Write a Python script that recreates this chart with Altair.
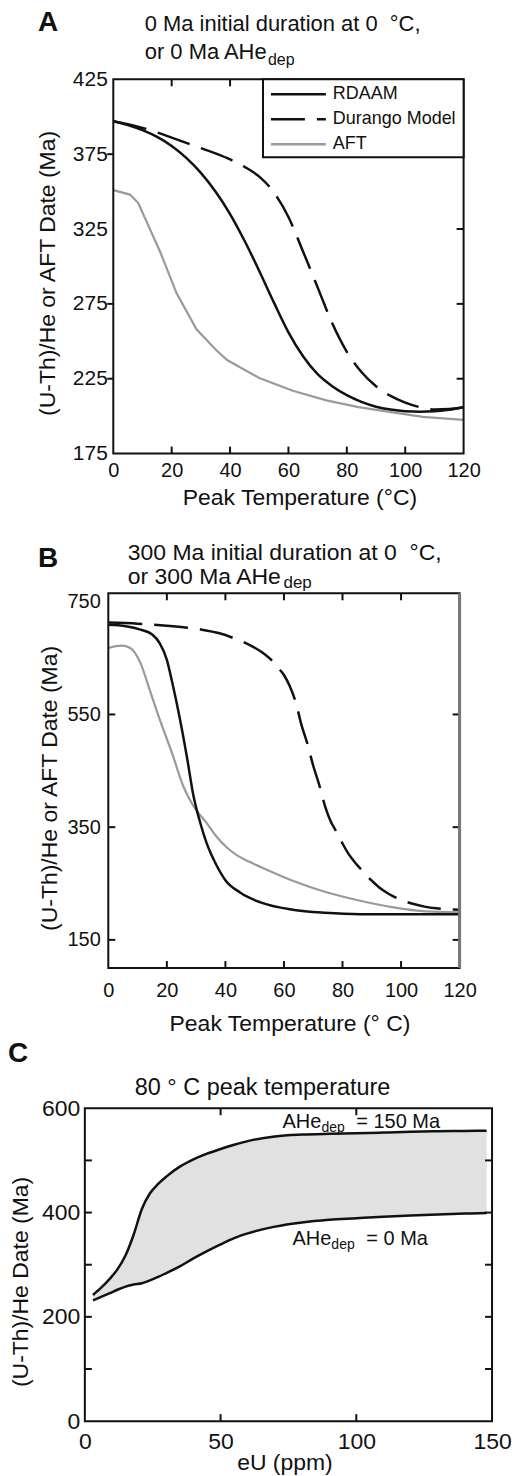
import altair as alt
import pandas as pd

FONT = "Liberation Sans"
BLACK = "#111111"
GRAY = "#9a9a9a"
FILL = "#e1e1e1"
DEG = "\u00b0"
NB = "\u00a0"

# ---------------- Panel A data ----------------
A_T = [0, 5, 10, 15, 20, 25, 30, 35, 40, 45, 50, 55, 60, 65, 70, 75, 80, 85, 90, 95, 100, 105, 110, 115, 120]
A_RDAAM = [397, 394.5, 391, 386.5, 380.5, 372.5, 362.5, 350, 335, 317, 297, 276, 256, 240, 228, 220, 214,
           209.5, 206.3, 204.4, 203.3, 203, 203.2, 204.2, 205.9]
A_DURANGO = [397, 395, 392.5, 389.5, 386, 382.5, 379, 375.5, 371.5, 366.5, 360, 349.5, 333, 310, 286, 262,
             243, 229.5, 220, 213.5, 209, 206, 204.5, 204.8, 206]
A_AFT_T = [0, 5.7, 8.5, 16, 21.7, 28.5, 35.3, 39, 50, 61.5, 73, 84, 95.7, 106, 120]
A_AFT = [351, 348, 342.5, 310, 282, 258, 244, 237.5, 225.5, 217, 210.5, 206, 202.5, 199.5, 197.5]
A_X_LABELS = [0, 20, 40, 60, 80, 100, 120]
A_Y_LABELS = [175, 225, 275, 325, 375, 425]
A_X_INNER = [20, 40, 60, 80, 100]
A_Y_RIGHT = [225, 275, 325, 375]
A_Y_LEFT_OUT = [225, 275, 375]

# ---------------- Panel B data ----------------
B_RDAAM_T = [0, 6, 11, 15, 17.5, 20, 22, 24.5, 27, 29, 31.5, 33.5, 37, 40, 45, 52, 63, 74, 86, 100, 120]
B_RDAAM = [709, 706.5, 700.5, 692, 677, 647, 603, 541, 470, 408, 356, 323, 282, 256, 234, 216.5, 203.5,
           198, 195.5, 195.5, 195.5]
B_DUR_T = [0, 10, 20, 27, 32, 38, 43, 48, 52, 56, 58, 60, 62, 64, 66, 68, 70, 72, 74, 76, 78, 80, 82, 84,
           86, 88, 90, 93, 96, 100, 104, 108, 112, 116, 120]
B_DURANGO = [713, 711, 707.5, 704, 700.5, 694, 685, 674, 662, 645, 633, 620, 600, 572, 531, 498, 459, 426,
             388, 360, 341, 321, 303, 289, 277, 265, 255, 241, 231, 221, 214, 209, 206, 204.5, 203.5]
B_AFT_T = [0, 4.5, 7.5, 11, 14, 17.5, 22, 25.5, 29, 33.5, 37, 40.5, 44, 48, 52, 63, 74.5, 86, 97, 108.5, 120]
B_AFT = [668, 672, 668, 641, 596, 542, 478, 424, 388, 358, 333, 314, 300, 289, 279.5, 255, 234.5, 219.5,
         208, 200.5, 199]
B_X_LABELS = [0, 20, 40, 60, 80, 100, 120]
B_Y_LABELS = [150, 350, 550, 750]
B_X_INNER = [20, 40, 60, 80, 100]
B_Y_INNER = [150, 350, 550]

# ---------------- Panel C data ----------------
C_EU = [3, 6, 9, 12, 15, 18, 21, 24, 27, 30, 35, 40, 45, 50, 55, 60, 70, 80, 90, 100, 110, 120, 130, 140, 148]
C_UPPER = [242, 256, 272, 291, 318, 358, 407, 437, 455, 469, 488, 502, 513, 522, 530, 537, 546, 549.5,
           551, 552, 553.5, 555, 556, 556.5, 557]
C_LOWER = [231.5, 238.5, 245, 252, 258, 262, 264.5, 270, 276.5, 284, 297, 312, 326, 339, 351, 360, 373, 381,
           386, 389, 392, 394.5, 396.5, 398, 399]
C_X_LABELS = [0, 50, 100, 150]
C_Y_LABELS = [0, 200, 400, 600]
C_X_INNER = [50, 100]
C_Y_INNER = [100, 200, 300, 400, 500]

SERIES = ["RDAAM", "Durango Model", "AFT"]
SERIES_COLOR = [BLACK, BLACK, GRAY]
SERIES_DASH = [[1, 0], [34, 12], [1, 0]]
DASH = [34, 12]


def xaxis(values, size, pad, title, tx, ty):
    return alt.Axis(values=values, labelFontSize=size, labelPadding=pad, title=title, titleX=tx, titleY=ty,
                    titleAlign="center", titleBaseline="middle", titleAngle=0, domain=False, ticks=False,
                    grid=False, labelFlush=False, labelOverlap=False, titleFontSize=23)


def yaxis(values, size, pad, title, tx, ty):
    return alt.Axis(values=values, labelFontSize=size, labelPadding=pad, title=title, titleX=tx, titleY=ty,
                    titleAlign="center", titleBaseline="middle", titleAngle=270, domain=False, ticks=False,
                    grid=False, labelFlush=False, labelOverlap=False, titleFontSize=23)


def text(s, x, y, size, weight="normal", color=BLACK):
    return alt.Chart().mark_text(text=s, fontSize=size, fontWeight=weight, align="left",
                                 baseline="alphabetic", color=color, font=FONT).encode(
        x=alt.value(x), y=alt.value(y))


def frame(W, H):
    return alt.Chart().mark_rect(fill="white", fillOpacity=0, stroke=BLACK, strokeWidth=2).encode(
        x=alt.value(0), x2=alt.value(W), y=alt.value(0), y2=alt.value(H))


def xticks_in(vals, X, H, L=7):
    df = pd.DataFrame({X.shorthand.split(":")[0]: vals})
    bot = alt.Chart(df).mark_rule(color=BLACK, strokeWidth=2).encode(x=X, y=alt.value(H), y2=alt.value(H - L))
    top = alt.Chart(df).mark_rule(color=BLACK, strokeWidth=2).encode(x=X, y=alt.value(0), y2=alt.value(L))
    return [bot, top]


def yticks(vals, Y, x1, x2):
    df = pd.DataFrame({Y.shorthand.split(":")[0]: vals})
    return alt.Chart(df).mark_rule(color=BLACK, strokeWidth=2).encode(y=Y, x=alt.value(x1), x2=alt.value(x2))


# ---------------- Panel A ----------------
AW, AH = 351, 375
XA = alt.X("T:Q", scale=alt.Scale(domain=[0, 120], nice=False, zero=False),
           axis=xaxis(A_X_LABELS, 20, 7, "Peak Temperature (" + DEG + "C)", 186.5, 44))
YA = alt.Y("v:Q", scale=alt.Scale(domain=[175, 425], nice=False, zero=False),
           axis=yaxis(A_Y_LABELS, 21, 6, "(U-Th)/He or AFT Date (Ma)", -66, 194))

dfA = pd.DataFrame({"T": A_T, "RDAAM": A_RDAAM, "Durango": A_DURANGO})
dfA_aft = pd.DataFrame({"T": A_AFT_T, "v": A_AFT})

a_layers = [
    alt.Chart(dfA_aft).mark_line(color=GRAY, strokeWidth=2.2).encode(x=XA, y=YA),
    alt.Chart(dfA).transform_calculate(v="datum.Durango").mark_line(
        color=BLACK, strokeWidth=2.5, strokeDash=DASH, interpolate="monotone").encode(x=XA, y=YA),
    alt.Chart(dfA).transform_calculate(v="datum.RDAAM").mark_line(
        color=BLACK, strokeWidth=2.5, interpolate="monotone").encode(x=XA, y=YA),
]
a_layers += xticks_in(A_X_INNER, XA, AH)
a_layers += [yticks(A_Y_RIGHT, YA, AW - 7, AW), yticks(A_Y_LEFT_OUT, YA, -6, 0), frame(AW, AH)]
# legend box
a_layers.append(alt.Chart().mark_rect(fill="white", stroke=BLACK, strokeWidth=2).encode(
    x=alt.value(150), x2=alt.value(AW), y=alt.value(0), y2=alt.value(78)))
LEG_Y = [15, 40, 65]
for i, name in enumerate(SERIES):
    a_layers.append(alt.Chart().mark_rule(color=SERIES_COLOR[i], strokeWidth=2.5, strokeDash=SERIES_DASH[i]).encode(
        x=alt.value(158), x2=alt.value(213), y=alt.value(LEG_Y[i])))
    a_layers.append(alt.Chart().mark_text(text=name, fontSize=18, align="left", baseline="middle",
                                          color=BLACK, font=FONT).encode(x=alt.value(220), y=alt.value(LEG_Y[i])))
a_layers += [
    text("A", -75.5, -48, 28, "bold"),
    text("0 Ma initial duration at 0" + NB + " " + DEG + "C,", 31.5, -48, 22),
    text("or 0 Ma AHe", 31.5, -20, 22),
    text("dep", 155, -14, 16),
]
panelA = alt.layer(*a_layers).properties(width=AW, height=AH)

# ---------------- Panel B ----------------
BW_VIEW, BW, BH = 361, 352, 375.5
XB = alt.X("T:Q", scale=alt.Scale(domain=[0, 120], range=[0, BW], nice=False, zero=False),
           axis=xaxis(B_X_LABELS, 20, 13, "Peak Temperature (" + DEG + NB + "C)", 181.5, 55.5))
YB = alt.Y("v:Q", scale=alt.Scale(domain=[100, 765], nice=False, zero=False),
           axis=yaxis(B_Y_LABELS, 20, 8, "(U-Th)/He or AFT Date (Ma)", -58.5, 195))

dfB_r = pd.DataFrame({"T": B_RDAAM_T, "v": B_RDAAM})
dfB_d = pd.DataFrame({"T": B_DUR_T, "v": B_DURANGO})
dfB_a = pd.DataFrame({"T": B_AFT_T, "v": B_AFT})
b_layers = [
    alt.Chart(dfB_a).mark_line(color=GRAY, strokeWidth=2.2, interpolate="monotone").encode(x=XB, y=YB),
    alt.Chart(dfB_d).mark_line(color=BLACK, strokeWidth=2.5, strokeDash=DASH, interpolate="monotone").encode(x=XB, y=YB),
    alt.Chart(dfB_r).mark_line(color=BLACK, strokeWidth=2.5, interpolate="monotone").encode(x=XB, y=YB),
]
b_layers += xticks_in(B_X_INNER, XB, BH)
b_layers += [yticks(B_Y_INNER, YB, 0, 7), yticks(B_Y_INNER, YB, BW - 7, BW), frame(BW, BH),
             alt.Chart().mark_rule(color="#777777", strokeWidth=3).encode(
                 x=alt.value(BW), y=alt.value(0), y2=alt.value(BH))]
b_layers += [
    text("B", -70.5, -26, 28, "bold"),
    text("300 Ma initial duration at 0" + NB + " " + DEG + "C,", 19.5, -33, 23),
    text("or 300 Ma AHe", 19.5, -9, 23),
    text("dep", 175.5, -5, 17),
]
panelB = alt.layer(*b_layers).properties(width=BW_VIEW, height=BH)

# ---------------- Panel C ----------------
CW, CH = 408, 313.5
XC = alt.X("eU:Q", scale=alt.Scale(domain=[0, 150], nice=False, zero=False),
           axis=xaxis(C_X_LABELS, 23, 9, "eU (ppm)", 200, 41))
YC = alt.Y("v:Q", scale=alt.Scale(domain=[0, 600], nice=False, zero=False),
           axis=yaxis(C_Y_LABELS, 23, 5, "(U-Th)/He Date (Ma)", -64, 173.5))
dfC = pd.DataFrame({"eU": C_EU, "up": C_UPPER, "lo": C_LOWER})
c_layers = [
    alt.Chart(dfC).transform_calculate(v="datum.up").mark_area(color=FILL, interpolate="monotone").encode(
        x=XC, y=YC, y2="lo:Q"),
    alt.Chart(dfC).transform_calculate(v="datum.up").mark_line(color=BLACK, strokeWidth=2.5,
                                                               interpolate="monotone").encode(x=XC, y=YC),
    alt.Chart(dfC).transform_calculate(v="datum.lo").mark_line(color=BLACK, strokeWidth=2.5,
                                                               interpolate="monotone").encode(x=XC, y=YC),
]
c_layers += xticks_in(C_X_INNER, XC, CH)
c_layers += [yticks(C_Y_INNER, YC, 0, 7), yticks(C_Y_INNER, YC, CW - 7, CW), frame(CW, CH)]
c_layers += [
    text("C", -77, -46, 28, "bold"),
    text("80 " + DEG + NB + "C peak temperature", 50, -13, 23.5),
    text("AHe", 198, 20, 20), text("dep", 237, 24, 14), text("= 150 Ma", 272, 20, 20),
    text("AHe", 208, 137, 20), text("dep", 247, 141, 14), text("= 0 Ma", 282, 137, 20),
]
panelC = alt.layer(*c_layers).properties(width=CW, height=CH)

chart = alt.vconcat(panelA, panelB, panelC, spacing=140, center=True, bounds="flush").resolve_scale(
    x="independent", y="independent").properties(padding=0).configure(font=FONT).configure_view(
    stroke="transparent", strokeWidth=0).configure_axis(
    labelFont=FONT, titleFont=FONT, labelColor=BLACK, titleColor=BLACK, titleFontWeight="normal")

chart.save("out.html", embed_options={"renderer": "svg", "actions": False})
